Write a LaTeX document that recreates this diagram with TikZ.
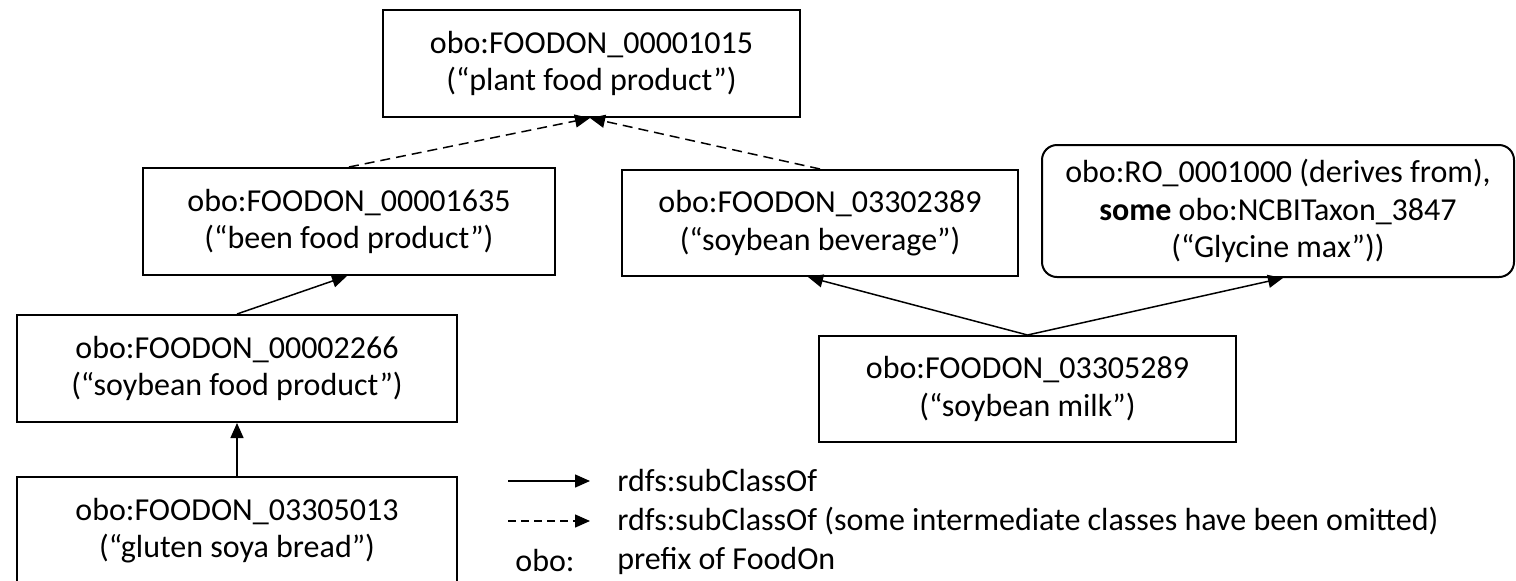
\documentclass[tikz,border=0pt]{standalone}
\usepackage{fontspec}
\setmainfont{Carlito}
\usetikzlibrary{arrows.meta,calc}
\begin{document}
\begin{tikzpicture}[x=0.5pt,y=-0.5pt,
  box/.style={draw,line width=1pt,inner sep=0pt,align=center,
    font=\fontsize{16pt}{18.75pt}\selectfont},
  rbox/.style={box,rounded corners=7.5pt},
  sub/.style={line width=0.75pt,-{Triangle[length=7.5pt,width=6.5pt]}},
  subd/.style={sub,dash pattern=on 5pt off 3pt},
  lgd/.style={anchor=west,inner sep=0pt,font=\fontsize{16pt}{18.75pt}\selectfont}]
\clip (0,0) rectangle (1516,580);
\fill[white] (0,0) rectangle (1516,580);
\node[box,minimum width=208.5pt,minimum height=53.5pt] (t) at (591.5,63.5)
  {obo:FOODON\_00001015\\(“plant food product”)};
\node[box,minimum width=206pt,minimum height=53.5pt] (b1635) at (349,221.5)
  {obo:FOODON\_00001635\\(“been food product”)};
\node[box,minimum width=198pt,minimum height=53pt] (b2389) at (820,223)
  {obo:FOODON\_03302389\\(“soybean beverage”)};
\node[rbox,minimum width=236pt,minimum height=66pt] (rel) at (1278,211)
  {obo:RO\_0001000 (derives from),\\\textbf{some} obo:NCBITaxon\_3847\\(“Glycine max”))};
\node[box,minimum width=220pt,minimum height=53.5pt] (b2266) at (237,368.5)
  {obo:FOODON\_00002266\\(“soybean food product”)};
\node[box,minimum width=220pt,minimum height=53.5pt] (b5013) at (237,530.5)
  {obo:FOODON\_03305013\\(“gluten soya bread”)};
\node[box,minimum width=208.5pt,minimum height=53pt] (b5289) at (1027.5,389)
  {obo:FOODON\_03305289\\(“soybean milk”)};
% connectors
\draw[sub] (b5013.north) -- (b2266.south);
\draw[sub] (b2266.north) -- ($(b1635.south)+(-2,0)$);
\draw[subd] (b1635.north) -- ($(t.south)+(-1.5,0)$);
\draw[subd] (b2389.north) -- ($(t.south)+(-1.5,0)$);
\draw[sub] (b5289.north) -- ($(b2389.south)+(-12,0)$);
\draw[sub] (b5289.north) -- ($(rel.south)+(5,0)$);
% legend
\coordinate (l1a) at (508,481); \coordinate (l1b) at (590,481);
\coordinate (l2a) at (508,521); \coordinate (l2b) at (590,521);
\draw[sub] (l1a) -- (l1b);
\draw[subd,dash pattern=on 4pt off 2.5pt] (l2a) -- (l2b);
\node[lgd] (lt1) at (617,481) {rdfs:subClassOf};
\node[lgd] (lt2) at (617,521) {rdfs:subClassOf (some intermediate classes have been omitted)};
\node[lgd] (lo) at (515,561) {obo:};
\node[lgd] (lt3) at (617,561) {prefix of FoodOn};
\end{tikzpicture}
\end{document}
